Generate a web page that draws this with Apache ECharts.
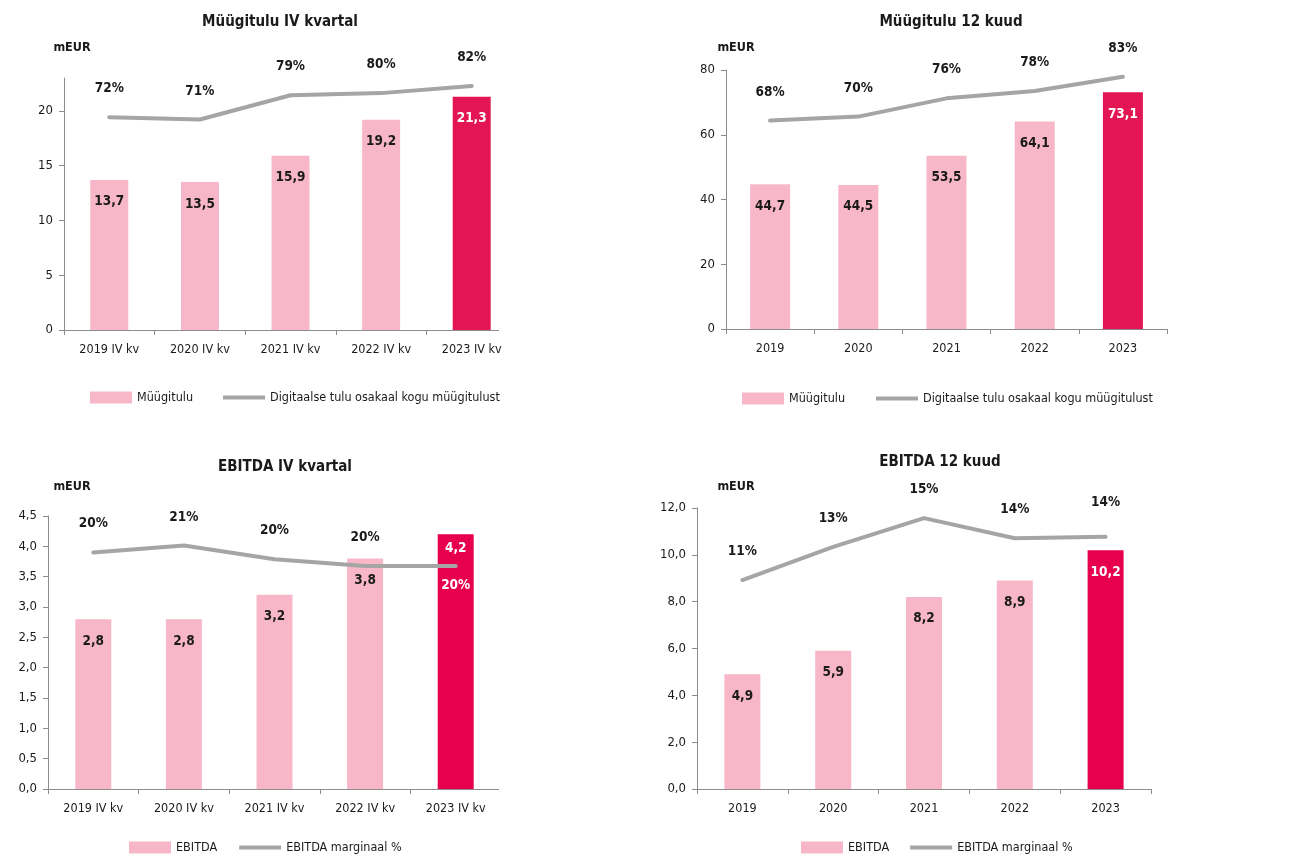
<!DOCTYPE html>
<html>
<head>
<meta charset="utf-8">
<script src="https://cdn.jsdelivr.net/npm/echarts@6/dist/echarts.min.js"></script>
<style>
html,body{margin:0;padding:0;background:#fff;}
#c{width:1291px;height:854px;}
</style>
</head>
<body>
<div id="c"></div>
<script>
// ---- data ----
const catsQ = ['2019 IV kv','2020 IV kv','2021 IV kv','2022 IV kv','2023 IV kv'];
const catsY = ['2019','2020','2021','2022','2023'];

const salesQ = [13.7, 13.5, 15.9, 19.2, 21.3];
const digitalShareQ = [71.8, 71.0, 79.2, 79.9, 82.3];

const salesY = [44.7, 44.5, 53.5, 64.1, 73.1];
const digitalShareY = [68.4, 69.7, 75.7, 78.1, 82.8];

const ebitdaQ = [2.8, 2.8, 3.2, 3.8, 4.2];
const marginQ = [20.4, 20.7, 20.1, 19.8, 19.8];

const ebitdaY = [4.9, 5.9, 8.2, 8.9, 10.2];
const marginY = [11.0, 13.3, 15.3, 13.9, 14.0];

const ticks1 = [0, 5, 10, 15, 20];
const ticks2 = [0, 20, 40, 60, 80];
const ticks3 = [0, 0.5, 1, 1.5, 2, 2.5, 3, 3.5, 4, 4.5];
const ticks4 = [0, 2, 4, 6, 8, 10, 12];

const titles = ['Müügitulu IV kvartal', 'Müügitulu 12 kuud', 'EBITDA IV kvartal', 'EBITDA 12 kuud'];
const unitLabel = 'mEUR';
const barNameSales = 'Müügitulu';
const lineNameSales = 'Digitaalse tulu osakaal kogu müügitulust';
const barNameEbitda = 'EBITDA';
const lineNameEbitda = 'EBITDA marginaal %';

// ---- styling ----
const FONT = "'Liberation Sans Narrow','Arial Narrow','DejaVu Sans Condensed',Lato,sans-serif";
const PINK = '#F8B7C9';
const RED_TOP = '#E31553';
const RED_BOT = '#E6004E';
const GRAY = '#A5A5A5';
const AXIS = '#8C8C8C';
const TXT = '#1a1a1a';
const LINE_ICON = 'path://M0,0h0.01v0.01h-0.01z M0,4h42v4h-42z M41.99,11.99h0.01v0.01h-0.01z';

const grids = [
  {left: 64, top: 78, width: 453, height: 252},
  {left: 726, top: 70, width: 441, height: 259},
  {left: 48, top: 516, width: 453, height: 273},
  {left: 697, top: 508, width: 454, height: 281}
];

function fmtInt(v){ return String(v); }
function fmtDec(v){ return v.toFixed(1).replace('.', ','); }

function xAxis(i, cats){
  return {
    type: 'category', gridIndex: i, data: cats, boundaryGap: true,
    axisLine: {show: true, lineStyle: {color: AXIS, width: 1}},
    axisTick: {show: true, length: 5, lineStyle: {color: AXIS}},
    axisLabel: {color: TXT, fontSize: 12.5, fontFamily: FONT, margin: 13, interval: 0}
  };
}
function yAxisLeft(i, max, ticks, fmt){
  return {
    type: 'value', gridIndex: i, min: 0, max: max,
    splitLine: {show: false},
    axisLine: {show: true, lineStyle: {color: AXIS, width: 1}},
    axisTick: {show: true, length: 5, lineStyle: {color: AXIS}, customValues: ticks},
    axisLabel: {color: TXT, fontSize: 13, fontFamily: FONT, margin: 11, formatter: fmt, customValues: ticks}
  };
}
function yAxisRight(i, min, max){
  return {type: 'value', gridIndex: i, min: min, max: max, show: false, splitLine: {show: false}};
}

function barSeries(name, i, vals, barW, fmt, dark, specialDist){
  return {
    type: 'bar', name: name, xAxisIndex: i, yAxisIndex: 2 * i, barWidth: barW, z: 2,
    itemStyle: {color: PINK},
    data: vals.map((v, k) => {
      const last = k === vals.length - 1;
      const o = {value: v};
      if (last) {
        o.itemStyle = {color: dark};
        o.label = {color: '#fff'};
        if (specialDist != null) o.label.distance = specialDist;
      }
      return o;
    }),
    label: {
      show: true, position: 'insideTop', distance: 15,
      color: TXT, fontWeight: 'bold', fontSize: 13.5, fontFamily: FONT,
      formatter: p => fmt(p.value)
    }
  };
}
function lineSeries(name, i, vals, itemLabels){
  return {
    type: 'line', name: name, xAxisIndex: i, yAxisIndex: 2 * i + 1, z: 5,
    symbol: 'circle', symbolSize: 3, showSymbol: true, smooth: false,
    lineStyle: {color: GRAY, width: 4, cap: 'round'},
    itemStyle: {color: GRAY, borderWidth: 0},
    data: vals.map((v, k) => {
      const o = {value: v};
      if (itemLabels && itemLabels[k]) o.label = itemLabels[k];
      return o;
    }),
    label: {
      show: true, position: 'top', distance: 20,
      color: TXT, fontWeight: 'bold', fontSize: 13.5, fontFamily: FONT,
      formatter: p => Math.round(p.value) + '%'
    }
  };
}
function legend(left, top, names, gap){
  return {
    left: left, top: top, padding: 0, itemGap: gap, itemWidth: 42, itemHeight: 12,
    textStyle: {color: TXT, fontSize: 12.5, fontFamily: FONT},
    data: [{name: names[0], icon: 'rect'}, {name: names[1], icon: LINE_ICON}]
  };
}
function textEl(x, y, txt, size, bold){
  return {
    type: 'text', x: x, y: y,
    style: {text: txt, fill: TXT, font: (bold ? 'bold ' : '') + size + 'px ' + FONT, textAlign: 'center', textVerticalAlign: 'middle'}
  };
}

const option = {
  animation: false,
  backgroundColor: '#fff',
  grid: grids,
  xAxis: [xAxis(0, catsQ), xAxis(1, catsY), xAxis(2, catsQ), xAxis(3, catsY)],
  yAxis: [
    yAxisLeft(0, 23, ticks1, fmtInt), yAxisRight(0, 0, 85),
    yAxisLeft(1, 80, ticks2, fmtInt), yAxisRight(1, 0, 85),
    yAxisLeft(2, 4.5, ticks3, fmtDec), yAxisRight(2, 10, 22),
    yAxisLeft(3, 12, ticks4, fmtDec), yAxisRight(3, -3.5, 16)
  ],
  legend: [
    legend(90, 391, [barNameSales, lineNameSales], 30),
    legend(742, 392, [barNameSales, lineNameSales], 31),
    legend(129, 841, [barNameEbitda, lineNameEbitda], 22),
    legend(801, 841, [barNameEbitda, lineNameEbitda], 21)
  ],
  series: [
    barSeries(barNameSales, 0, salesQ, 38, fmtDec, RED_TOP),
    lineSeries(lineNameSales, 0, digitalShareQ),
    barSeries(barNameSales, 1, salesY, 40, fmtDec, RED_TOP),
    lineSeries(lineNameSales, 1, digitalShareY),
    barSeries(barNameEbitda, 2, ebitdaQ, 36, fmtDec, RED_BOT, 7),
    lineSeries(lineNameEbitda, 2, marginQ, [null, null, null, null, {position: 'bottom', distance: 11, color: '#fff'}]),
    barSeries(barNameEbitda, 3, ebitdaY, 36, fmtDec, RED_BOT),
    lineSeries(lineNameEbitda, 3, marginY, [null, null, null, null, {distance: 26}])
  ],
  graphic: [
    // the reference's plot area is clipped on the right in the two quarterly charts
    {type: 'rect', z: 100, shape: {x: 499, y: 325, width: 24, height: 10}, style: {fill: '#fff'}},
    {type: 'rect', z: 100, shape: {x: 499, y: 784, width: 6, height: 10}, style: {fill: '#fff'}},
    textEl(280, 22, titles[0], 15, true),
    textEl(951, 22, titles[1], 15, true),
    textEl(285, 467, titles[2], 15, true),
    textEl(940, 462, titles[3], 15, true),
    textEl(72, 48, unitLabel, 12.5, true),
    textEl(736, 48, unitLabel, 12.5, true),
    textEl(72, 487, unitLabel, 12.5, true),
    textEl(736, 487, unitLabel, 12.5, true)
  ]
};

const chart = echarts.init(document.getElementById('c'), null, {renderer: 'canvas'});
chart.setOption(option);
</script>
</body>
</html>
